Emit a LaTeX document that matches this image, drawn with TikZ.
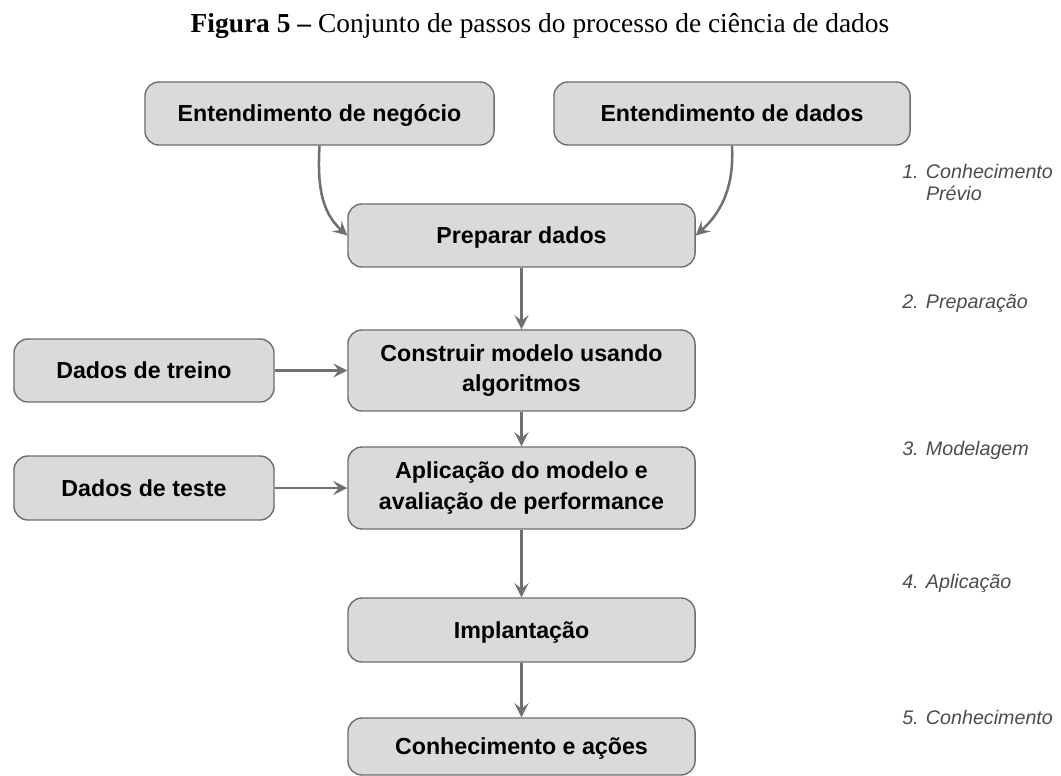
\documentclass[tikz,border=0pt]{standalone}
\usepackage{fontspec}
\setmainfont{Liberation Serif}
\newfontfamily\boxfont{Liberation Sans}
\usetikzlibrary{arrows.meta}
\begin{document}
\begin{tikzpicture}[x=0.025cm, y=-0.025cm,
    passo/.style={draw=boxline, fill=boxfill, line width=1pt, rounded corners=10pt,
      inner sep=0pt, align=center, text=black,
      font=\boxfont\bfseries\fontsize{16.5}{21.5}\selectfont},
    linha/.style={text height=13pt, text depth=1.5pt},
    fase/.style={anchor=west, align=left, inner sep=0pt, text=fasecor,
      font=\boxfont\itshape\fontsize{14}{15}\selectfont},
    seta/.style={draw=setacor, line width=1.8pt,
      -{Stealth[length=10pt,width=10pt,inset=4pt]}}]
    \definecolor{boxfill}{rgb}{0.855,0.855,0.855}
    \definecolor{boxline}{rgb}{0.43,0.43,0.43}
    \definecolor{setacor}{rgb}{0.44,0.44,0.44}
    \definecolor{fasecor}{rgb}{0.30,0.30,0.30}
    \useasboundingbox (0,0) rectangle (1061,776);
    \node[anchor=base, font=\fontsize{19.5}{22}\selectfont] (titulo) at (540,32)
      {\textbf{Figura 5 –} Conjunto de passos do processo de ciência de dados};
    % caixas
    \node[passo, linha, minimum width=8.725cm, minimum height=1.575cm] (negocio) at (319.5,113.5) {Entendimento de negócio};
    \node[passo, linha, minimum width=8.9cm, minimum height=1.575cm] (dados) at (732,113.5) {Entendimento de dados};
    \node[passo, linha, minimum width=8.675cm, minimum height=1.575cm] (preparar) at (521.5,235.5) {Preparar dados};
    \node[passo, linha, minimum width=6.5cm, minimum height=1.575cm] (treino) at (144,370.5) {Dados de treino};
    \node[passo, minimum width=8.675cm, minimum height=2.025cm] (construir) at (521.5,370.5) {Construir modelo usando\\algoritmos};
    \node[passo, linha, minimum width=6.5cm, minimum height=1.6cm] (teste) at (144,488) {Dados de teste};
    \node[passo, minimum width=8.675cm, minimum height=2.05cm] (aplicacao) at (521.5,488) {Aplicação do modelo e\\avaliação de performance};
    \node[passo, linha, minimum width=8.675cm, minimum height=1.6cm] (implantacao) at (521.5,630) {Implantação};
    \node[passo, linha, minimum width=8.675cm, minimum height=1.425cm] (acoes) at (521.5,746.5) {Conhecimento e ações};
    % fases
    \node[fase] (f1) at (902,182.5) {1. Conhecimento\\\phantom{1. }Prévio};
    \node[fase] (f2) at (902,303) {2. Preparação};
    \node[fase] (f3) at (902,450) {3. Modelagem};
    \node[fase] (f4) at (902,583) {4. Aplicação};
    \node[fase] (f5) at (902,717) {5. Conhecimento};
    % setas
    \draw[seta] (negocio.south) to[out=-93,in=138] (preparar.west);
    \draw[seta] (dados.south) to[out=-87,in=42] (preparar.east);
    \draw[seta] (preparar) -- (construir);
    \draw[seta] (treino) -- (construir);
    \draw[seta] (construir) -- (aplicacao);
    \draw[seta] (teste) -- (aplicacao);
    \draw[seta] (aplicacao) -- (implantacao);
    \draw[seta] (implantacao) -- (acoes);
  \end{tikzpicture}
\end{document}
